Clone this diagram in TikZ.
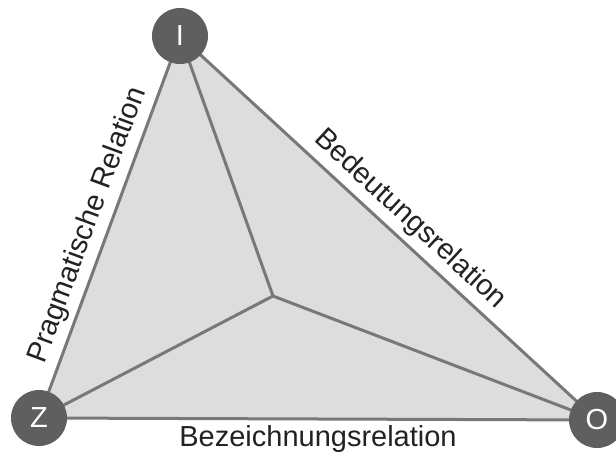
\documentclass[tikz,border=0pt]{standalone}
\usepackage{fontspec}
\setmainfont{Liberation Sans}
\usepackage{tikz}
\usetikzlibrary{backgrounds}
\definecolor{flaeche}{HTML}{DDDDDD}
\definecolor{kante}{HTML}{787878}
\definecolor{ecken}{HTML}{5F5F5F}
\definecolor{schrift}{HTML}{222222}

\begin{document}
\begin{tikzpicture}[x=1pt,y=-1pt,
    ecke/.style={circle,fill=ecken,text=white,minimum size=56pt,inner sep=0pt,
      font=\fontsize{29}{32}\selectfont},
    rel/.style={text=schrift,inner sep=7pt,font=\fontsize{29}{32}\selectfont},
    kanten/.style={draw=kante,line width=3pt}]
          \useasboundingbox (0,0) rectangle (616,457);
          \node[ecke] (I) at (180,36) {I};
          \node[ecke] (Z) at (39,418) {Z};
          \node[ecke] (O) at (597,420) {O};
          \coordinate (M) at (273,296);
          \begin{scope}[on background layer]
            \fill[flaeche] (I.center) -- (Z.center) -- (O.center) -- cycle;
            \foreach \e in {I,Z,O}{
              \draw[kanten] (\e.center) -- (M);}
            \draw[kanten] (I.center) -- (Z.center) -- (O.center) -- cycle;
          \end{scope}
          \path (Z.center) -- node[rel,sloped,above,pos=0.486] {Pragmatische Relation} (I.center);
          \path (I.center) -- node[rel,sloped,above,pos=0.518] {Bedeutungsrelation} (O.center);
          \path (Z.center) -- node[rel,below,pos=0.5,inner sep=6pt] {Bezeichnungsrelation} (O.center);
        \end{tikzpicture}
\end{document}
